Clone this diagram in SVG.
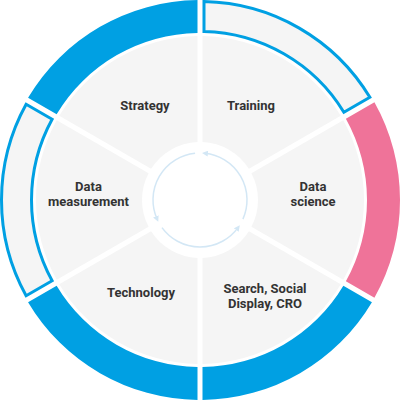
<svg xmlns="http://www.w3.org/2000/svg" width="400" height="400" viewBox="0 0 400 400">
  <style>
    .sector { fill: #f5f5f5; }
    .solid { fill: #00a0e3; }
    .pink { fill: #ef7399; }
    .outline { fill: #f5f5f5; stroke: #00a0e3; stroke-width: 3; stroke-linejoin: miter; }
    .label { font-family: Roboto, "Liberation Sans", sans-serif; font-weight: bold; font-size: 13px; fill: #333333; text-anchor: middle; }
    .cyc { fill: none; stroke: #d3e7f5; stroke-width: 1.5; }
  </style>
  <defs>
    <path id="sec" d="M120.175,56.738 A164,164 0 0 1 279.825,56.738 L226.808,148.567 A58,58 0 0 0 173.192,148.567 Z"/>
    <path id="ring" d="M102.173,25.559 A200,200 0 0 1 297.827,25.559 L281.326,54.140 A167,167 0 0 0 118.674,54.140 Z"/>
    <path id="ringo" d="M104.234,26.129 A198.5,198.5 0 0 1 295.766,26.129 L280.762,52.116 A168.5,168.5 0 0 0 119.238,52.116 Z"/>
    <marker id="ah" viewBox="0 0 6 6" refX="3" refY="3" markerWidth="6" markerHeight="6" markerUnits="userSpaceOnUse" orient="auto">
      <path d="M0,0 L6,3 L0,6 Z" fill="#d3e7f5"/>
    </marker>
  </defs>

  <g id="strategy">
    <use href="#sec" class="sector" transform="rotate(-30 200 200)"/>
    <use href="#ring" class="solid" transform="rotate(-30 200 200)"/>
    <text class="label" x="145" y="110">Strategy</text>
  </g>
  <g id="training">
    <use href="#sec" class="sector" transform="rotate(30 200 200)"/>
    <use href="#ringo" class="outline" transform="rotate(30 200 200)"/>
    <text class="label" x="251" y="110">Training</text>
  </g>
  <g id="data-science">
    <use href="#sec" class="sector" transform="rotate(90 200 200)"/>
    <use href="#ring" class="pink" transform="rotate(90 200 200)"/>
    <text class="label" x="313" y="191">Data</text>
    <text class="label" x="313" y="206">science</text>
  </g>
  <g id="search">
    <use href="#sec" class="sector" transform="rotate(150 200 200)"/>
    <use href="#ring" class="solid" transform="rotate(150 200 200)"/>
    <text class="label" x="265" y="293">Search, Social</text>
    <text class="label" x="265" y="308">Display, CRO</text>
  </g>
  <g id="technology">
    <use href="#sec" class="sector" transform="rotate(210 200 200)"/>
    <use href="#ring" class="solid" transform="rotate(210 200 200)"/>
    <text class="label" x="141" y="297">Technology</text>
  </g>
  <g id="data-measurement">
    <use href="#sec" class="sector" transform="rotate(-90 200 200)"/>
    <use href="#ringo" class="outline" transform="rotate(-90 200 200)"/>
    <text class="label" x="88.5" y="191">Data</text>
    <text class="label" x="88.5" y="206">measurement</text>
  </g>

  <g id="cycle">
    <path class="cyc" d="M195.087,153.257 A47,47 0 0 0 157.063,219.117" marker-end="url(#ah)"/>
    <path class="cyc" d="M195.087,153.257 A47,47 0 0 0 157.063,219.117" marker-end="url(#ah)" transform="rotate(-120 200 200)"/>
    <path class="cyc" d="M195.087,153.257 A47,47 0 0 0 157.063,219.117" marker-end="url(#ah)" transform="rotate(-240 200 200)"/>
  </g>
</svg>
